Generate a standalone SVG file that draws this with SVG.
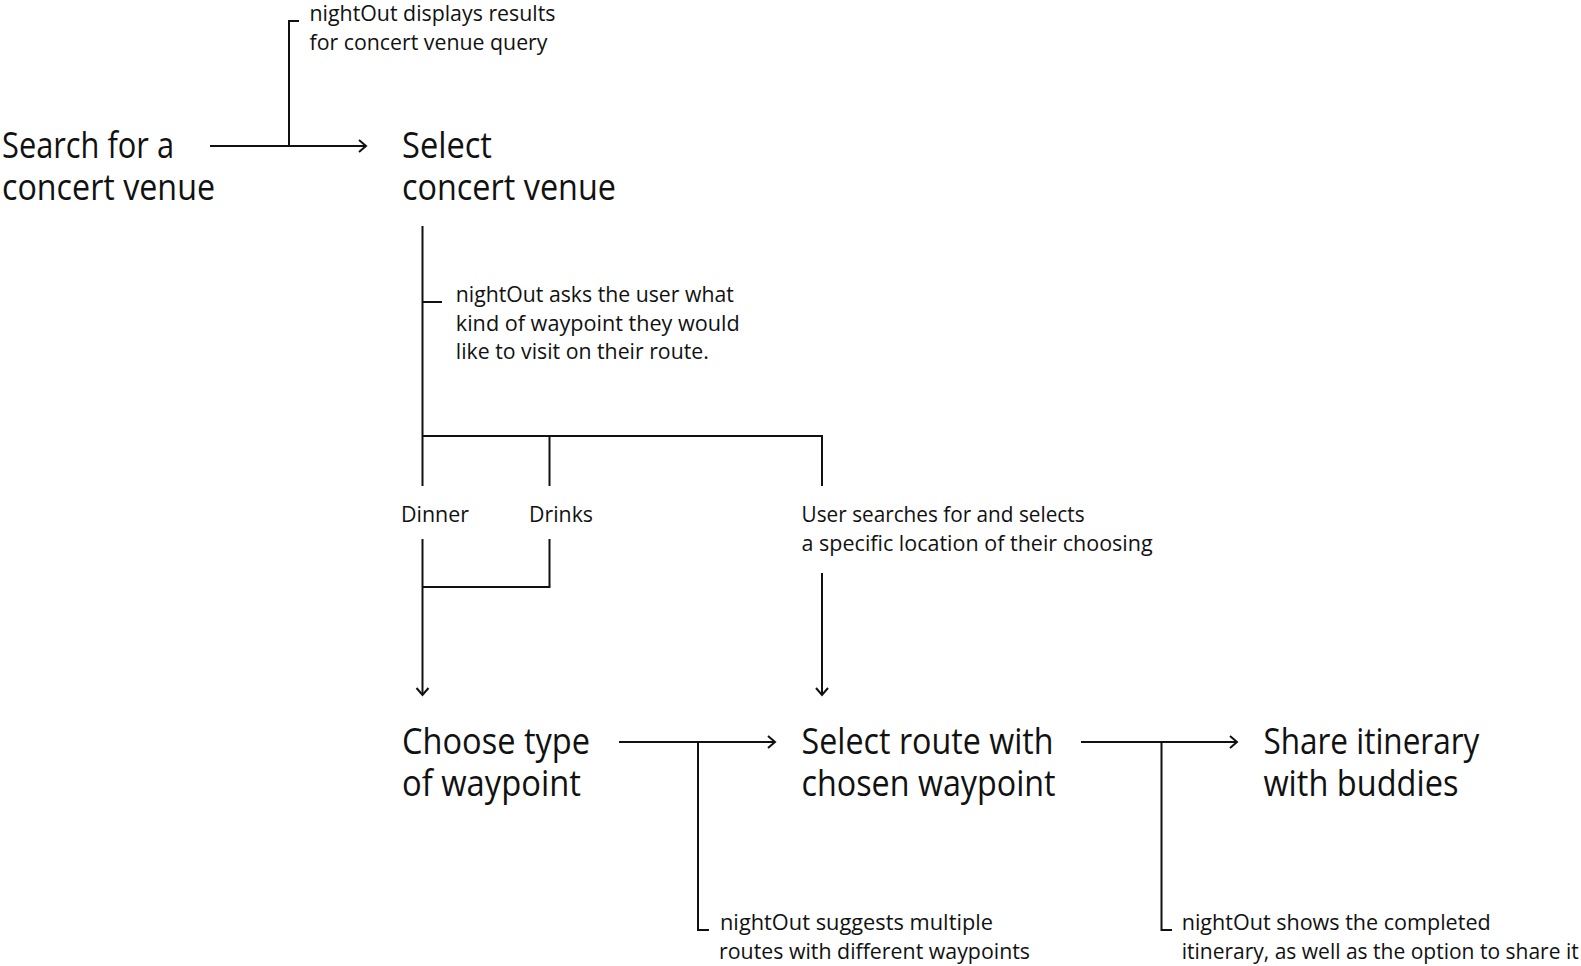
<svg xmlns="http://www.w3.org/2000/svg" width="1581" height="966" viewBox="0 0 1581 966">
<style>
  .big { font-family: "Open Sans", "Noto Sans", sans-serif; font-size: 37px; fill: #111; }
  .sm { font-family: "Open Sans", "Noto Sans", sans-serif; font-size: 21px; fill: #111; }
  .ln { fill: none; stroke: #111; stroke-width: 2; }
</style>
<defs>
  <marker id="arr" markerUnits="userSpaceOnUse" markerWidth="20" markerHeight="20" refX="10" refY="10" orient="auto" viewBox="0 0 20 20">
    <path d="M3,4 L10,10 L3,16" fill="none" stroke="#111" stroke-width="2"/>
  </marker>
</defs>
<rect width="1581" height="966" fill="#fff"/>

<g id="connectors">
  <line class="ln" x1="210" y1="146" x2="366" y2="146" marker-end="url(#arr)"/>
  <polyline class="ln" points="289,146 289,21 299,21"/>
  <line class="ln" x1="422.5" y1="226" x2="422.5" y2="486"/>
  <polyline class="ln" points="422.5,302 442,302"/>
  <polyline class="ln" points="422.5,436 822,436 822,486"/>
  <line class="ln" x1="549.5" y1="436" x2="549.5" y2="486"/>
  <line class="ln" x1="422.5" y1="539" x2="422.5" y2="695" marker-end="url(#arr)"/>
  <polyline class="ln" points="549.5,539 549.5,587 422.5,587"/>
  <line class="ln" x1="822" y1="573" x2="822" y2="695" marker-end="url(#arr)"/>
  <line class="ln" x1="619" y1="742" x2="775" y2="742" marker-end="url(#arr)"/>
  <polyline class="ln" points="698,742 698,930 709,930"/>
  <line class="ln" x1="1081" y1="742" x2="1237" y2="742" marker-end="url(#arr)"/>
  <polyline class="ln" points="1161.5,742 1161.5,930 1172,930"/>
</g>

<g id="node-search">
  <text class="big" x="2" y="158" textLength="172" lengthAdjust="spacingAndGlyphs">Search for a</text>
  <text class="big" x="2" y="200" textLength="213" lengthAdjust="spacingAndGlyphs">concert venue</text>
</g>
<g id="node-select-venue">
  <text class="big" x="402" y="158" textLength="90" lengthAdjust="spacingAndGlyphs">Select</text>
  <text class="big" x="402" y="200" textLength="214" lengthAdjust="spacingAndGlyphs">concert venue</text>
</g>
<g id="node-choose-type">
  <text class="big" x="402" y="754" textLength="188" lengthAdjust="spacingAndGlyphs">Choose type</text>
  <text class="big" x="402" y="796" textLength="179" lengthAdjust="spacingAndGlyphs">of waypoint</text>
</g>
<g id="node-select-route">
  <text class="big" x="801.6" y="754" textLength="252" lengthAdjust="spacingAndGlyphs">Select route with</text>
  <text class="big" x="801.6" y="796" textLength="254" lengthAdjust="spacingAndGlyphs">chosen waypoint</text>
</g>
<g id="node-share">
  <text class="big" x="1263.4" y="754" textLength="216" lengthAdjust="spacingAndGlyphs">Share itinerary</text>
  <text class="big" x="1263.4" y="796" textLength="195" lengthAdjust="spacingAndGlyphs">with buddies</text>
</g>

<g id="note-results">
  <text class="sm" x="309.5" y="21" textLength="246" lengthAdjust="spacingAndGlyphs">nightOut displays results</text>
  <text class="sm" x="309.5" y="49.5" textLength="238" lengthAdjust="spacingAndGlyphs">for concert venue query</text>
</g>
<g id="note-asks">
  <text class="sm" x="455.8" y="302" textLength="278" lengthAdjust="spacingAndGlyphs">nightOut asks the user what</text>
  <text class="sm" x="455.8" y="330.5" textLength="284" lengthAdjust="spacingAndGlyphs">kind of waypoint they would</text>
  <text class="sm" x="455.8" y="359" textLength="253" lengthAdjust="spacingAndGlyphs">like to visit on their route.</text>
</g>
<g id="option-dinner">
  <text class="sm" x="401" y="522" textLength="68" lengthAdjust="spacingAndGlyphs">Dinner</text>
</g>
<g id="option-drinks">
  <text class="sm" x="529" y="522" textLength="64" lengthAdjust="spacingAndGlyphs">Drinks</text>
</g>
<g id="option-user-search">
  <text class="sm" x="801.6" y="522" textLength="283" lengthAdjust="spacingAndGlyphs">User searches for and selects</text>
  <text class="sm" x="801.6" y="551" textLength="351" lengthAdjust="spacingAndGlyphs">a specific location of their choosing</text>
</g>
<g id="note-suggests">
  <text class="sm" x="720" y="930" textLength="273" lengthAdjust="spacingAndGlyphs">nightOut suggests multiple</text>
  <text class="sm" x="719" y="958.5" textLength="311" lengthAdjust="spacingAndGlyphs">routes with different waypoints</text>
</g>
<g id="note-shows">
  <text class="sm" x="1181.7" y="930" textLength="309" lengthAdjust="spacingAndGlyphs">nightOut shows the completed</text>
  <text class="sm" x="1181.7" y="958.5" textLength="397" lengthAdjust="spacingAndGlyphs">itinerary, as well as the option to share it</text>
</g>
</svg>
